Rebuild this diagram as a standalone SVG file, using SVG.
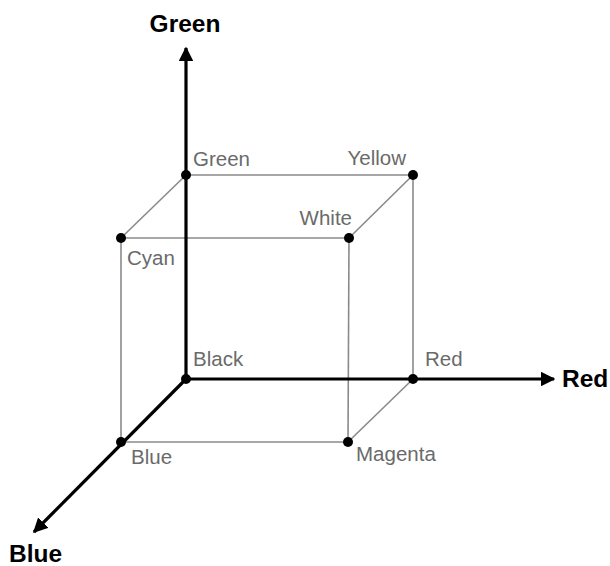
<svg xmlns="http://www.w3.org/2000/svg" width="610" height="566" viewBox="0 0 610 566">
<style>
.edge{stroke:#8a8a8a;stroke-width:1.6;fill:none}
.axis{stroke:#000;stroke-width:3.2;fill:none}
.dot{fill:#000}
.lbl{font-family:"Liberation Sans",Arial,sans-serif;font-size:20.5px;fill:#6a6a6a}
.ax{font-family:"Liberation Sans",Arial,sans-serif;font-size:24.5px;font-weight:bold;fill:#000}
</style>
<defs>
<marker id="ah" viewBox="0 0 10 10" refX="9" refY="5" markerWidth="4.6" markerHeight="4.6" orient="auto" markerUnits="strokeWidth">
<path d="M0,0 L10,5 L0,10 z" fill="#000"/>
</marker>
</defs>
<g id="connectors">
<g id="edges">
<line class="edge" x1="186" y1="175" x2="413" y2="175"/>
<line class="edge" x1="121" y1="238" x2="349" y2="238"/>
<line class="edge" x1="121" y1="442" x2="348" y2="442"/>
<line class="edge" x1="121" y1="238" x2="121" y2="442"/>
<line class="edge" x1="349" y1="238" x2="348" y2="442"/>
<line class="edge" x1="413" y1="175" x2="413" y2="379"/>
<line class="edge" x1="186" y1="175" x2="121" y2="238"/>
<line class="edge" x1="413" y1="175" x2="349" y2="238"/>
<line class="edge" x1="413" y1="379" x2="348" y2="442"/>
</g>
<g id="axes">
<line class="axis" x1="186" y1="379" x2="186" y2="48" marker-end="url(#ah)"/>
<line class="axis" x1="186" y1="379" x2="554" y2="379" marker-end="url(#ah)"/>
<line class="axis" x1="186" y1="379" x2="34" y2="532" marker-end="url(#ah)"/>
</g>
</g>
<g id="node-black"><circle class="dot" cx="186" cy="379" r="5"/><text class="lbl" x="193" y="366">Black</text></g>
<g id="node-green"><circle class="dot" cx="186" cy="175" r="5"/><text class="lbl" x="193" y="166">Green</text></g>
<g id="node-yellow"><circle class="dot" cx="413" cy="175" r="5"/><text class="lbl" x="406" y="165" text-anchor="end">Yellow</text></g>
<g id="node-white"><circle class="dot" cx="349" cy="238" r="5"/><text class="lbl" x="352" y="225" text-anchor="end">White</text></g>
<g id="node-cyan"><circle class="dot" cx="121" cy="238" r="5"/><text class="lbl" x="127" y="265">Cyan</text></g>
<g id="node-blue"><circle class="dot" cx="121" cy="442" r="5"/><text class="lbl" x="131" y="464">Blue</text></g>
<g id="node-magenta"><circle class="dot" cx="348" cy="442" r="5"/><text class="lbl" x="356" y="461">Magenta</text></g>
<g id="node-red"><circle class="dot" cx="413" cy="379" r="5"/><text class="lbl" x="425" y="366">Red</text></g>
<g id="axis-labels">
<text class="ax" x="185" y="32" text-anchor="middle">Green</text>
<text class="ax" x="562" y="387">Red</text>
<text class="ax" x="9" y="562">Blue</text>
</g>
</svg>
